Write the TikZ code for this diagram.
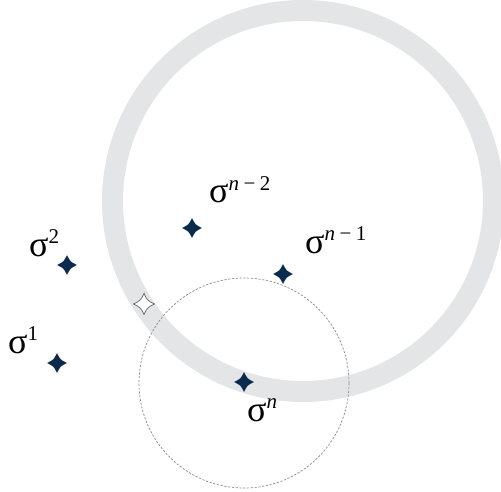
\documentclass[tikz,border=0pt]{standalone}
\usepackage{fontspec}
\setmainfont{Liberation Serif}
\definecolor{ringgray}{HTML}{E4E5E7}
\definecolor{starnavy}{HTML}{0C2A4E}
\definecolor{dashgray}{HTML}{8A8A8A}
\newcommand{\siglab}[1]{σ\raisebox{12.5pt}{\fontsize{21}{21}\selectfont #1}}
\tikzset{
  fourstar/.pic={\path[pic actions] (0,-10) .. controls (3.3,-3.3) .. (10,0) .. controls (3.3,3.3) .. (0,10) .. controls (-3.3,3.3) .. (-10,0) .. controls (-3.3,-3.3) .. cycle;},
  darkstar/.style={fill=starnavy},
  hollowstar/.style={fill=white,draw=black!75,line width=0.5pt},
  lab/.style={anchor=base west,inner sep=0pt,font=\fontsize{36}{36}\selectfont},
  ring/.style={draw=ringgray,line width=21pt},
  nbhd/.style={draw=dashgray,line width=0.7pt,dash pattern=on 2.2pt off 1.6pt}
}
\begin{document}
\begin{tikzpicture}[x=1pt,y=-1pt]
\useasboundingbox (0,0) rectangle (501,492);
\clip (0,0) rectangle (501,492);
% big ring
\coordinate (rc) at (303,201);
\draw[ring] (rc) circle[radius=190.5pt];
% dashed neighbourhood
\coordinate (dc) at (244,383);
\draw[nbhd] (dc) circle[radius=105pt];
% stars
\coordinate (s1) at (57,363);
\coordinate (s2) at (67,265);
\coordinate (sn2) at (192,228);
\coordinate (sn1) at (283,274);
\coordinate (sn) at (244,382);
\coordinate (sw) at (144,304);
\pic[darkstar] at (s1) {fourstar};
\pic[darkstar] at (s2) {fourstar};
\pic[darkstar] at (sn2) {fourstar};
\pic[darkstar] at (sn1) {fourstar};
\pic[darkstar] at (sn) {fourstar};
\pic[hollowstar,scale=1.05] at (sw) {fourstar};
% labels
\node[lab] (l1) at (8,353) {\siglab{1}};
\node[lab] (l2) at (29,256) {\siglab{2}};
\node[lab] (ln2) at (209,203) {\siglab{\textit{n}\hspace{4.5pt}−\hspace{4.5pt}2}};
\node[lab] (ln1) at (305,253) {\siglab{\textit{n}\hspace{4.5pt}−\hspace{4.5pt}1}};
\node[lab] (ln) at (247,421) {\siglab{\textit{n}}};
\end{tikzpicture}
\end{document}
